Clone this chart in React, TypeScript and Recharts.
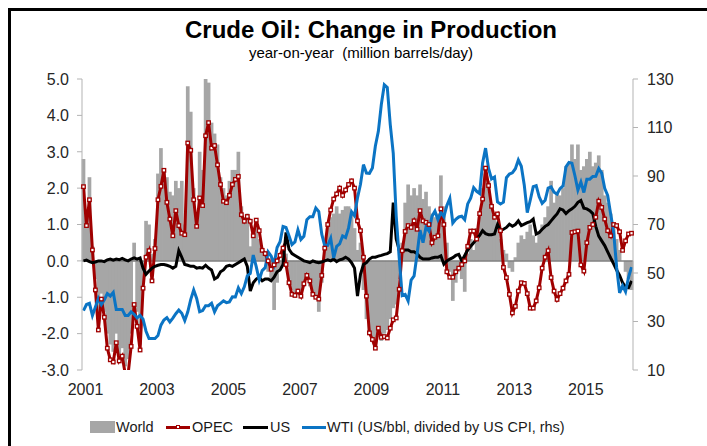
import React from 'react';
import { ComposedChart, Bar, Line, XAxis, YAxis, ReferenceLine } from 'recharts';

// monthly, Jan 2001 .. May 2016
const years = [2001, 2002, 2003, 2004, 2005, 2006, 2007, 2008, 2009, 2010, 2011, 2012, 2013, 2014, 2015, 2016];
const xTickYears = ['2001', '2003', '2005', '2007', '2009', '2011', '2013', '2015'];
const leftTicks = [-3, -2, -1, 0, 1, 2, 3, 4, 5];
const rightTicks = [10, 30, 50, 70, 90, 110, 130];

// world, y/y change, mb/d
const world = [
  2.8, 1.3, 2.3, 0.4, -0.5, -1.6, -0.9, -1.4, -2.0, -2.3, -2.5, -2.0,
  -2.6, -2.4, -2.9, -2.7, -2.0, 0.5, -1.4, -2.3, -0.6, 1.1, 1.0, 0.2,
  0.6, 2.4, 3.1, 2.5, 2.3, 1.9, 1.8, 2.2, 2.0, 2.2, 1.0, 4.8,
  4.1, 2.0, 1.3, 3.0, 2.5, 5.0, 4.9, 3.8, 3.5, 3.2, 2.3, 2.0,
  1.8, 2.2, 2.5, 2.5, 3.0, 1.5, 1.2, 1.3, 0.4, 0.8, 1.0, 0.6,
  0.3, 0.2, -0.3, -0.5, -1.35, -0.6, -0.2, 0.3, 0.2, -0.5, -0.8, -1.0,
  -0.9, -1.0, -0.7, -0.5, -0.7, -0.9, -1.0, -1.4, -0.6, 0.3, 0.9, 1.2,
  1.3, 1.5, 1.3, 1.4, 1.5, 1.5, 1.3, 0.9, 0.3, 0.5, -0.8, -1.6,
  -2.0, -2.2, -2.3, -2.1, -2.2, -2.0, -1.9, -1.6, -1.3, -1.2, -0.5, 0.5,
  1.6, 2.1, 1.8, 2.0, 1.8, 2.1, 1.7, 1.9, 1.5, 1.3, 1.2, 1.3,
  2.35, 1.5, 0.5, -0.3, -1.1, -0.6, -0.3, -0.5, -0.85, 0.2, 0.6, 0.3,
  0.9, 1.2, 2.0, 2.4, 2.2, 1.5, 1.2, 1.0, 0.6, 0.3, 0.2, -0.2,
  -0.3, 0.1, 0.5, 0.7, 0.6, 0.8, 1.0, 0.7, 0.5, 0.8, 1.0, 1.2,
  1.5, 2.2, 1.6, 1.9, 1.8, 2.0, 2.6, 2.7, 3.2, 2.8, 3.2, 2.5,
  2.6, 2.8, 3.0, 2.6, 2.7, 2.9, 2.5, 1.8, 1.6, 1.3, 1.0, 0.6,
  0.3, 0.0, -0.3, -0.5, -0.8,
];

const opec = [
  2.04, 0.97, 1.68, 0.3, -0.8, -1.9, -1.05, -1.55, -2.4, -2.72, -2.78, -2.25,
  -2.75, -2.62, -3.1, -3.1, -2.35, -1.2, -1.8, -2.45, -0.75, 0.1, 0.28, -0.55,
  0.34, 1.68, 2.05, 2.49, 1.61, 1.15, 0.69, 1.38, 0.97, 0.76, 0.72, 3.24,
  3.04, 1.68, 0.95, 1.73, 1.52, 3.44, 3.8, 3.1, 3.17, 2.64, 2.1, 1.64,
  1.6, 1.8, 2.1, 2.24, 2.32, 1.27, 1.09, 1.22, 1.09, 0.69, 1.12, 0.83,
  0.29, 0.2, 0.0, -0.23, -0.11, 0.0, 0.15, 0.35, -0.1, -0.6, -0.92, -0.95,
  -0.83, -0.97, -0.63, -0.4, -0.55, -0.92, -1.0, -1.05, -0.4, 0.35, 1.0, 1.4,
  1.7, 1.84, 2.0, 1.8, 1.95, 2.1, 2.2, 2.0, 1.1, 0.83, 0.1, -0.97,
  -1.98, -2.16, -2.4, -1.85, -2.1, -2.08, -2.12, -1.85, -1.62, -1.57, -0.78, 0.28,
  0.81, 0.97, 0.92, 1.1, 0.87, 1.38, 1.1, 1.06, 1.0, 0.5, 0.65, 0.69,
  1.43, 1.0, -0.3, -0.45, -0.45, -0.3, -0.2, -0.1, 0.0, 0.4, 0.82, 0.82,
  0.6, 1.3, 1.7, 2.55, 2.07, 1.5, 1.2, 1.29, 0.83, -0.18, -0.46, -0.92,
  -1.43, -1.25, -0.83, -0.6, -0.62, -0.9, -1.3, -1.3, -1.1, -0.74, -0.2, 0.1,
  0.28, -0.46, -0.83, -1.06, -0.9, -0.75, -0.55, -0.37, 0.78, 0.8, 0.82, -0.11,
  -0.28, 0.5, 0.92, 1.0, 1.2, 1.64, 1.47, 1.15, 0.83, 0.69, 1.0, 0.97,
  0.8, 0.29, 0.55, 0.74, 0.76,
];

const us = [
  0.0, 0.02, -0.02, -0.05, -0.03, 0.0, 0.0, -0.02, 0.03, 0.05, 0.02, 0.05,
  0.03, 0.07, 0.03, 0.0, 0.05, 0.08, 0.05, 0.08, -0.2, -0.37, -0.28, -0.2,
  -0.15, -0.12, -0.1, -0.1, -0.12, -0.15, -0.2, -0.15, 0.28, 0.1, -0.1, -0.12,
  -0.15, -0.15, -0.2, -0.18, -0.2, -0.12, -0.2, -0.25, -0.5, -0.45, -0.3, -0.25,
  -0.15, -0.12, -0.15, -0.1, -0.05, 0.0, 0.05, -0.15, -0.83, -0.6, -0.5, -0.45,
  -0.55, -0.5, -0.5, -0.55, -0.45, -0.3, -0.25, -0.1, 0.78, 0.32, 0.2, 0.15,
  0.1, 0.05, 0.0, -0.02, -0.05, 0.0, -0.03, -0.05, -0.03, 0.0, 0.03, 0.0,
  0.05, -0.02, 0.03, 0.05, 0.1, 0.05, -0.05, -0.2, -0.97, -0.37, -0.1, -0.05,
  0.05, 0.1, 0.1, 0.13, 0.15, 0.18, 0.2, 0.25, 1.6, 0.6, 0.3, 0.28,
  0.3, 0.3, 0.25, 0.25, 0.2, 0.1, 0.05, 0.05, 0.05, 0.08, 0.1, 0.1,
  0.14, -0.09, 0.0, 0.05, 0.09, 0.15, 0.18, 0.0, 0.15, 0.3, 0.4, 0.5,
  0.6, 0.7, 0.83, 0.75, 0.72, 0.72, 0.74, 1.0, 0.83, 0.87, 0.92, 1.01,
  0.95, 1.0, 1.1, 0.97, 1.01, 1.05, 1.08, 1.15, 0.74, 0.78, 0.87, 0.95,
  1.0, 1.1, 1.2, 1.29, 1.43, 1.4, 1.3, 1.38, 1.43, 1.5, 1.61, 1.66,
  1.45, 1.43, 1.38, 1.3, 0.95, 0.68, 0.55, 0.42, 0.25, 0.08, -0.08, -0.25,
  -0.4, -0.6, -0.72, -0.74, -0.55,
];

// WTI, US$/bbl deflated by US CPI (rhs)
const wti = [
  34.5, 37, 37.5, 32.5, 36, 39.5, 37, 39, 41.5, 40.5, 42, 35,
  35, 35, 32.5, 32.5, 34, 33, 31.5, 32.5, 31, 26, 23, 23,
  23, 24.2, 28.5, 30.6, 31.6, 29.8, 31.4, 33.2, 34.7, 33.4, 30.4, 33.9,
  39, 43, 39.5, 34, 34.5, 36.5, 36.5, 37.5, 34, 36.5, 37.5, 38.5,
  37.8, 38.1, 40.2, 40.1, 43.9, 41.5, 44.3, 48.8, 49.8, 57.4, 52.6, 47.1,
  51.0, 52.2, 58.7, 57.0, 53.6, 60.5, 62.9, 69.2, 68.8, 65.4, 61.7, 62.8,
  67.8, 63.8, 65.1, 72.0, 73.2, 73.2, 76.8, 75.3, 66.0, 61.2, 61.4, 64.3,
  56.2, 61.0, 62.0, 65.3, 64.6, 68.6, 75.3, 73.6, 81.0, 86.6, 94.7, 91.2,
  91.1, 93.3, 102.4, 108.4, 119.5, 127.6, 126.5, 111.2, 99.4, 73.5, 56.2, 40.7,
  41.2, 38.5, 47.1, 48.8, 57.7, 67.7, 62.5, 69.0, 67.3, 73.4, 75.5, 72.0,
  75.0, 73.2, 77.8, 80.8, 70.6, 72.1, 73.1, 73.4, 72.0, 78.5, 80.8, 85.2,
  83.7, 82.8, 95.4, 101.5, 93.1, 88.8, 89.6, 79.3, 78.5, 79.2, 89.3, 90.8,
  91.3, 93.0, 96.6, 94.0, 86.2, 74.9, 80.0, 85.6, 86.0, 81.4, 78.7, 80.0,
  85.0, 85.5, 83.3, 82.5, 84.8, 85.9, 93.8, 95.6, 95.3, 90.1, 84.2, 87.5,
  83.2, 88.7, 88.7, 89.8, 89.9, 93.1, 91.2, 84.9, 82.0, 74.3, 66.9, 52.4,
  41.8, 44.8, 42.3, 48.2, 52.4,
];

const months: string[] = [];
years.forEach((y) => {
  for (let m = 1; m <= 12; m++) {
    if (months.length < world.length) months.push(`${y}-${String(m).padStart(2, '0')}`);
  }
});

const data = months.map((month, i) => ({
  month,
  world: world[i],
  opec: opec[i],
  us: us[i],
  wti: wti[i],
}));

const xTicks = xTickYears.map((y) => `${y}-01`);

const FONT = '"Liberation Sans", Arial, sans-serif';
const RED = '#a00000';
const BLUE = '#0b74c4';
const GREY = '#a6a6a6';
const TEXT = '#262626';

// monthly bars sit edge to edge, so widen each one a touch to close the hairline gaps
const WorldBar = (p: any) => {
  if (p.x == null || p.height == null) return <g />;
  const top = Math.min(p.y, p.y + p.height);
  const h = Math.abs(p.height);
  return <rect x={p.x - 0.35} y={top} width={p.width + 0.7} height={h} fill={GREY} />;
};

const OpecDot = (props: any) => {
  const { cx, cy, index } = props;
  if (cx == null || cy == null) return <g key={`d${index}`} />;
  return (
    <g key={`d${index}`}>
      <rect x={cx - 2.4} y={cy - 2.4} width={4.8} height={4.8} fill={RED} />
      <rect x={cx - 1.1} y={cy - 1.1} width={2.2} height={2.2} fill="#fff" />
    </g>
  );
};

// tick labels: lhs right-aligned, rhs left-aligned, years under the plot
const LeftTick = (p: any) => (
  <text x={58} y={p.y} dy="0.36em" textAnchor="end" fontSize={16} fill={TEXT} fontFamily={FONT}>
    {Number(p.payload.value).toFixed(1)}
  </text>
);
const RightTick = (p: any) => (
  <text x={636} y={p.y} dy="0.36em" textAnchor="start" fontSize={16} fill={TEXT} fontFamily={FONT}>
    {p.payload.value}
  </text>
);
const YearTick = (p: any) => (
  <text x={p.x + 2} y={378} dy="0.36em" textAnchor="middle" fontSize={16} fill={TEXT} fontFamily={FONT}>
    {String(p.payload.value).slice(0, 4)}
  </text>
);

const legendText: React.CSSProperties = {
  position: 'absolute',
  top: 418,
  fontSize: 14.5,
  lineHeight: '18px',
  color: '#1a1a1a',
  fontFamily: FONT,
  whiteSpace: 'nowrap',
};

export default function App() {
  return (
    <div style={{ position: 'fixed', left: 0, top: 0, width: 707, height: 446, overflow: 'hidden', background: '#fff', fontFamily: FONT }}>
      <div style={{ position: 'absolute', left: 8, top: 8, width: 699, height: 438, borderTop: '3px solid #000', borderLeft: '3px solid #000' }}>
        <ComposedChart width={696} height={435} data={data} margin={{ top: 68, right: 24, bottom: 46, left: 31 }} barCategoryGap={0}>
          <XAxis dataKey="month" ticks={xTicks} interval={0} axisLine={false} tickLine={false} tick={YearTick} height={30} />
          <YAxis
            yAxisId="left"
            domain={[-3, 5]}
            ticks={leftTicks}
            allowDataOverflow
            width={40}
            tick={LeftTick}
            tickSize={5}
            axisLine={{ stroke: '#b3b3b3' }}
            tickLine={{ stroke: '#b3b3b3' }}
          />
          <YAxis
            yAxisId="right"
            orientation="right"
            domain={[10, 130]}
            ticks={rightTicks}
            allowDataOverflow
            width={50}
            tick={RightTick}
            tickSize={5}
            axisLine={{ stroke: '#b3b3b3' }}
            tickLine={{ stroke: '#b3b3b3' }}
          />
          <Bar yAxisId="left" dataKey="world" fill={GREY} shape={WorldBar} isAnimationActive={false} />
          <ReferenceLine yAxisId="left" y={0} stroke="#7f7f7f" strokeWidth={1.5} />
          <Line yAxisId="left" dataKey="opec" stroke={RED} strokeWidth={3} dot={OpecDot} activeDot={false} isAnimationActive={false} />
          <Line yAxisId="left" dataKey="us" stroke="#000" strokeWidth={3} dot={false} activeDot={false} isAnimationActive={false} />
          <Line yAxisId="right" dataKey="wti" stroke={BLUE} strokeWidth={3} dot={false} activeDot={false} isAnimationActive={false} />
        </ComposedChart>
      </div>

      <div style={{ position: 'absolute', left: 0, width: 742, top: 20, textAlign: 'center', fontSize: 24, fontWeight: 'bold', lineHeight: '20px', color: '#000' }}>
        Crude Oil: Change in Production
      </div>
      <div style={{ position: 'absolute', left: 0, width: 722, top: 45, textAlign: 'center', fontSize: 15, lineHeight: '16px', color: '#000' }}>
        year-on-year&nbsp; (million barrels/day)
      </div>

      <div style={{ position: 'absolute', left: 90, top: 421, width: 25, height: 12, background: GREY }} />
      <div style={{ ...legendText, left: 116 }}>World</div>
      <div style={{ position: 'absolute', left: 166, top: 425.5, width: 24, height: 3, background: RED }} />
      <div style={{ position: 'absolute', left: 175.6, top: 424.6, width: 4.8, height: 4.8, background: RED }} />
      <div style={{ position: 'absolute', left: 176.9, top: 425.9, width: 2.2, height: 2.2, background: '#fff' }} />
      <div style={{ ...legendText, left: 192 }}>OPEC</div>
      <div style={{ position: 'absolute', left: 243, top: 425.5, width: 25, height: 3, background: '#000' }} />
      <div style={{ ...legendText, left: 270 }}>US</div>
      <div style={{ position: 'absolute', left: 302, top: 425.5, width: 24, height: 3, background: BLUE }} />
      <div style={{ ...legendText, left: 327 }}>WTI (US/bbl, divided by US CPI, rhs)</div>
    </div>
  );
}
